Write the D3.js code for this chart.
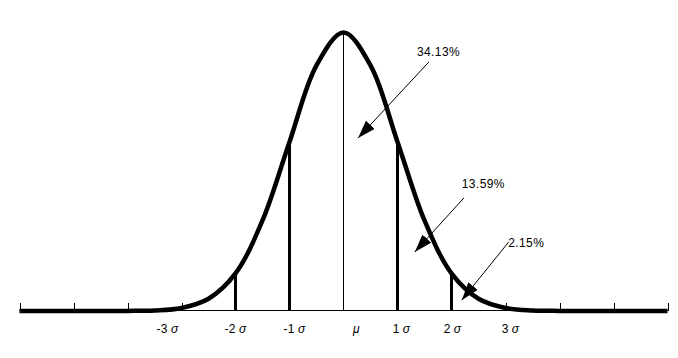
<!DOCTYPE html>
<meta charset="utf-8">
<style>
body {
  margin: 0;
  background: #fff;
  font-family: "Liberation Sans", Arial, sans-serif;
  font-size: 12px;
}
svg { display: block; }
text { letter-spacing: 0.4px; }
.greek { font-style: italic; }
</style>
<body>
<script src="https://d3js.org/d3.v7.min.js"></script>
<script>

var width = 678,
    height = 358;

// curve height (relative to the peak), every half sigma
var curveZ = [-6, -5.5, -5, -4.5, -4, -3.5, -3, -2.5, -2, -1.5, -1, -0.5, 0,
              0.5, 1, 1.5, 2, 2.5, 3, 3.5, 4, 4.5, 5, 5.5, 6];
var curveH = [0, 0, 0, 0, 0.0003, 0.002, 0.011, 0.044, 0.135, 0.325, 0.607, 0.882, 1,
              0.882, 0.607, 0.325, 0.135, 0.044, 0.011, 0.002, 0.0003, 0, 0, 0, 0];

var sigmaLines = [-2, -1, 1, 2];
var tickZ = [-6, -5, -4, -3, 3, 4, 5, 6];

var labelZ = [-3, -2, -1, 0, 1, 2, 3];
var labelNum = ["-3", "-2", "-1", "", "1", "2", "3"];
var labelSym = ["σ", "σ", "σ", "μ", "σ", "σ", "σ"];

var percents = ["34.13%", "13.59%", "2.15%"];

var x = d3.scaleLinear().domain([-6, 6]).range([19.5, 667.5]);
var y = d3.scaleLinear().domain([0, 1]).range([311, 32.5]);

var svg = d3.select("body").append("svg")
    .attr("width", width)
    .attr("height", height);

var defs = svg.append("defs");
defs.append("marker")
    .attr("id", "head")
    .attr("viewBox", "0 -6 18 12")
    .attr("refX", 18)
    .attr("refY", 0)
    .attr("markerWidth", 18)
    .attr("markerHeight", 12)
    .attr("markerUnits", "userSpaceOnUse")
    .attr("orient", "auto")
  .append("path")
    .attr("d", "M0,-6L18,0L0,6Z")
    .attr("fill", "#000");

function heightAt(z) {
  return curveH[curveZ.indexOf(z)];
}

// baseline
svg.append("line")
    .attr("x1", x(-6)).attr("x2", x(6))
    .attr("y1", y(0) - 0.5).attr("y2", y(0) - 0.5)
    .attr("stroke", "#000")
    .attr("stroke-width", 1);

// small ticks
svg.selectAll(".tick")
    .data(tickZ)
  .enter().append("line")
    .attr("class", "tick")
    .attr("x1", function(d) { return Math.round(x(d)) + 0.5; })
    .attr("x2", function(d) { return Math.round(x(d)) + 0.5; })
    .attr("y1", y(0))
    .attr("y2", y(0) - 8)
    .attr("stroke", "#000")
    .attr("stroke-width", 1);

// mean line
svg.append("line")
    .attr("x1", x(0)).attr("x2", x(0))
    .attr("y1", y(0)).attr("y2", y(1))
    .attr("stroke", "#000")
    .attr("stroke-width", 1);

// sigma lines
svg.selectAll(".sig")
    .data(sigmaLines)
  .enter().append("line")
    .attr("class", "sig")
    .attr("x1", function(d) { return x(d); })
    .attr("x2", function(d) { return x(d); })
    .attr("y1", y(0))
    .attr("y2", function(d) { return y(heightAt(d)); })
    .attr("stroke", "#000")
    .attr("stroke-width", 3);

// the curve
var line = d3.line()
    .x(function(d, i) { return x(curveZ[i]); })
    .y(function(d) { return y(d); })
    .curve(d3.curveCatmullRom.alpha(0.5));

svg.append("path")
    .datum(curveH)
    .attr("d", line)
    .attr("fill", "none")
    .attr("stroke", "#000")
    .attr("stroke-width", 4.5)
    .attr("stroke-linejoin", "round");

// sigma labels
var nudge = [-14, 0, 5, 13, 4, 1, 5];
var lab = svg.selectAll(".lab")
    .data(labelZ)
  .enter().append("text")
    .attr("class", "lab")
    .attr("x", function(d, i) { return x(d) + nudge[i]; })
    .attr("y", 333)
    .attr("text-anchor", "middle");
lab.append("tspan")
    .text(function(d, i) { return labelNum[i]; });
lab.append("tspan")
    .attr("class", "greek")
    .attr("dx", function(d, i) { return labelNum[i] ? 3 : 0; })
    .text(function(d, i) { return labelSym[i]; });

// percentage call-outs: [text z, text h, start z, start h, tip z, tip h]
var callouts = [
  [1.36, 0.916, 1.58, 0.894, 0.27, 0.621],
  [2.19, 0.442, 2.23, 0.406, 1.32, 0.212],
  [3.05, 0.230, 3.06, 0.248, 2.19, 0.039]
];

svg.selectAll(".pct")
    .data(percents)
  .enter().append("text")
    .attr("class", "pct")
    .attr("x", function(d, i) { return x(callouts[i][0]); })
    .attr("y", function(d, i) { return y(callouts[i][1]); })
    .text(function(d) { return d; });

svg.selectAll(".arrow")
    .data(percents)
  .enter().append("line")
    .attr("class", "arrow")
    .attr("x1", function(d, i) { return x(callouts[i][2]); })
    .attr("y1", function(d, i) { return y(callouts[i][3]); })
    .attr("x2", function(d, i) { return x(callouts[i][4]); })
    .attr("y2", function(d, i) { return y(callouts[i][5]); })
    .attr("stroke", "#000")
    .attr("stroke-width", 1)
    .attr("marker-end", "url(#head)");

</script>
